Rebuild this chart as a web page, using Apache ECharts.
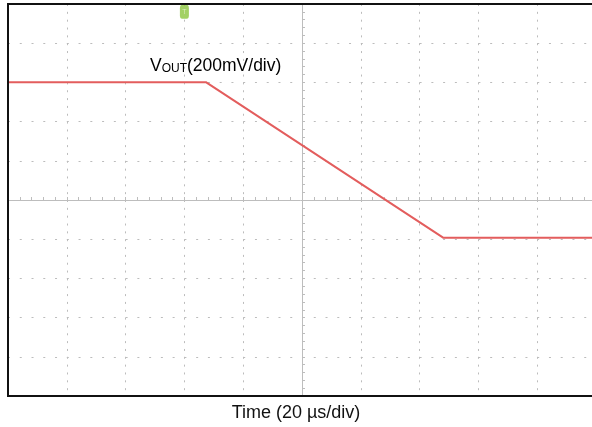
<!DOCTYPE html>
<html><head><meta charset="utf-8">
<script src="https://cdn.jsdelivr.net/npm/echarts@6/dist/echarts.min.js"></script>
<style>html,body{margin:0;padding:0;background:#fff}#c{width:592px;height:427px}</style>
</head><body><div id="c"></div>
<script>
// time relative to screen centre (µs), 20 µs/div
const timeUs = [-100, -32.7, 48, 100];
// VOUT relative to screen centre (mV), 200 mV/div
const voutMv = [601, 601, -192, -192];
const triggerTime = [-40];
const triggerLevel = [960];
const xTitle = 'Time (20 µs/div)';
const traceLabel = ['V', 'OUT', '(200mV/div)'];

const chart = echarts.init(document.getElementById('c'));
const gridColor = '#bcbcbc';
const axisColor = '#bdbdbd';
chart.setOption({
  animation: false,
  backgroundColor: '#fff',
  grid: { left: 8, top: 4, width: 588, height: 392, outerBoundsMode: 'none', containLabel: false },
  title: {
    text: xTitle, left: 'center', top: 399,
    textStyle: { fontFamily: 'Liberation Sans, Arial', fontSize: 18, fontWeight: 'normal', color: '#111' }
  },
  xAxis: {
    type: 'value', min: -100, max: 100, interval: 20,
    axisLine: { onZero: true, lineStyle: { color: axisColor, width: 1 } },
    axisTick: { show: true, length: 3, inside: true, lineStyle: { color: axisColor } },
    minorTick: { show: true, splitNumber: 5, length: 3, lineStyle: { color: axisColor } },
    axisLabel: { show: false },
    splitLine: { show: true, lineStyle: { color: gridColor, width: 1, type: [2, 5.84] } }
  },
  yAxis: {
    type: 'value', min: -1000, max: 1000, interval: 200,
    axisLine: { onZero: true, lineStyle: { color: axisColor, width: 1 } },
    axisTick: { show: true, length: 3, inside: true, lineStyle: { color: axisColor } },
    minorTick: { show: true, splitNumber: 5, length: 3, lineStyle: { color: axisColor } },
    axisLabel: { show: false },
    splitLine: { show: true, lineStyle: { color: gridColor, width: 1, type: [2, 9.76] } }
  },
  series: [
    {
      type: 'line', data: timeUs.map((t, i) => [t, voutMv[i]]),
      symbol: 'none', lineStyle: { color: '#e35d5d', width: 2 }, z: 5
    },
    {
      type: 'scatter', data: triggerTime.map((t, i) => [t, triggerLevel[i]]),
      symbol: 'roundRect', symbolSize: [9, 14], itemStyle: { color: '#8cc63e' },
      label: { show: true, formatter: 'T', position: 'inside', fontSize: 7, color: '#e8f5d0', fontFamily: 'Liberation Sans' },
      z: 6
    }
  ],
  graphic: [
    {
      type: 'rect', z: 100, silent: true,
      shape: { x: 8, y: 4, width: 588, height: 392 },
      style: { fill: 'none', stroke: '#111', lineWidth: 2 }
    },
    {
      type: 'text', left: 150, top: 57, z: 100,
      style: {
        text: '{v|' + traceLabel[0] + '}{s|' + traceLabel[1] + '}{v|' + traceLabel[2] + '}',
        rich: {
          v: { fontFamily: 'Liberation Sans, Arial', fontSize: 17.5, color: '#111', verticalAlign: 'bottom', lineHeight: 20 },
          s: { fontFamily: 'Liberation Sans, Arial', fontSize: 12, color: '#111', verticalAlign: 'bottom', lineHeight: 20 }
        }
      }
    }
  ]
});
</script></body></html>
